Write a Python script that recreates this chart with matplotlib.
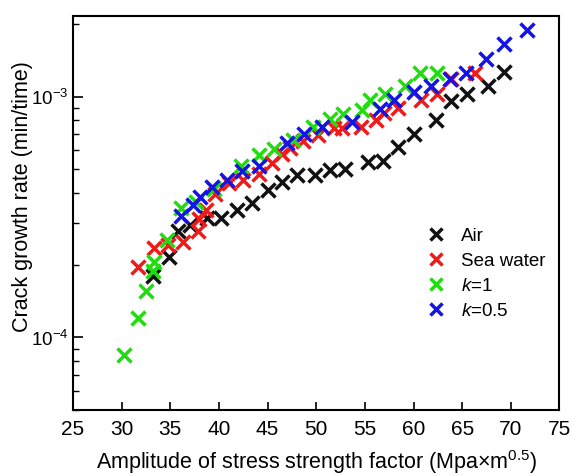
import matplotlib
matplotlib.use("Agg")
import matplotlib.pyplot as plt
from matplotlib.ticker import LogLocator, FixedLocator, FixedFormatter, NullFormatter

plt.rcParams['font.family'] = ['Liberation Sans', 'DejaVu Sans']
plt.rcParams['mathtext.fontset'] = 'custom'
plt.rcParams['mathtext.rm'] = 'Liberation Sans'
plt.rcParams['mathtext.it'] = 'Liberation Sans:italic'
plt.rcParams['mathtext.bf'] = 'Liberation Sans:bold'

# Crack growth data: stress intensity amplitude vs growth rate
air_dk = [33.2, 34.9, 35.8, 37.0, 38.8, 40.2, 41.9, 43.4, 45.0, 46.5, 48.0, 49.9,
          51.4, 52.95, 55.3, 56.9, 58.4, 60.0, 62.3, 63.9, 65.45, 67.7, 69.3]
air_rate = [1.80e-4, 2.16e-4, 2.78e-4, 2.93e-4, 3.14e-4, 3.14e-4, 3.37e-4, 3.62e-4,
            4.11e-4, 4.43e-4, 4.71e-4, 4.71e-4, 4.98e-4, 5.02e-4, 5.36e-4, 5.41e-4,
            6.18e-4, 7.02e-4, 7.98e-4, 9.6e-4, 1.03e-3, 1.105e-3, 1.27e-3]

sea_dk = [31.7, 33.3, 34.8, 36.3, 37.9, 38.0, 38.7, 39.6, 41.0, 42.5, 44.1, 45.5,
          46.5, 47.3, 48.6, 50.2, 51.8, 52.6, 54.65, 56.1, 57.0, 58.4, 60.8, 62.4,
          63.9, 66.3]
sea_rate = [1.97e-4, 2.36e-4, 2.42e-4, 2.50e-4, 2.78e-4, 3.12e-4, 3.38e-4, 3.93e-4,
            4.39e-4, 4.49e-4, 4.78e-4, 5.31e-4, 5.80e-4, 6.14e-4, 6.55e-4, 6.95e-4,
            7.38e-4, 7.45e-4, 7.5e-4, 8.0e-4, 8.52e-4, 8.95e-4, 9.66e-4, 1.03e-3,
            1.18e-3, 1.25e-3]

k1_dk = [30.2, 31.7, 32.5, 33.2, 33.35, 34.7, 36.15, 37.6, 39.5, 42.3, 44.1, 45.65,
         47.6, 49.7, 51.4, 52.8, 54.7, 55.5, 57.1, 59.1, 60.7, 62.4]
k1_rate = [8.45e-5, 1.20e-4, 1.56e-4, 1.88e-4, 2.06e-4, 2.54e-4, 3.46e-4, 3.66e-4,
           4.15e-4, 5.17e-4, 5.74e-4, 6.08e-4, 6.6e-4, 7.48e-4, 8.1e-4, 8.49e-4,
           8.77e-4, 9.66e-4, 1.03e-3, 1.11e-3, 1.25e-3, 1.26e-3]

k05_dk = [36.1, 37.3, 38.1, 39.3, 40.8, 42.35, 44.1, 47.0, 48.7, 50.6, 53.7, 56.6,
          57.95, 60.0, 61.75, 63.8, 65.35, 67.5, 69.25, 71.65]
k05_rate = [3.19e-4, 3.56e-4, 3.85e-4, 4.2e-4, 4.5e-4, 4.93e-4, 5.16e-4, 6.43e-4,
            7.03e-4, 7.46e-4, 7.84e-4, 8.9e-4, 9.73e-4, 1.045e-3, 1.105e-3, 1.19e-3,
            1.255e-3, 1.44e-3, 1.65e-3, 1.9e-3]

series = [
    (air_dk, air_rate, '#111111', 'Air'),
    (sea_dk, sea_rate, '#f01a1a', 'Sea water'),
    (k1_dk, k1_rate, '#1fdd0f', r'$\mathit{k}$=1'),
    (k05_dk, k05_rate, '#1414e6', r'$\mathit{k}$=0.5'),
]

x_ticks = [25, 30, 35, 40, 45, 50, 55, 60, 65, 70, 75]
y_ticks = [1e-4, 1e-3]
y_tick_labels = [r'$\mathregular{10^{-4}}$', r'$\mathregular{10^{-3}}$']

fig = plt.figure(figsize=(5.76, 4.76), dpi=100)
ax = fig.add_axes([0.1267, 0.1387, 0.8446, 0.8283])

for xs, ys, color, label in series:
    ax.plot(xs, ys, linestyle='none', marker='x', markersize=9.5,
            markeredgewidth=2.5, color=color, label=label)

ax.set_yscale('log')
ax.set_xlim(25, 75)
ax.set_ylim(5e-5, 2.17e-3)

ax.xaxis.set_major_locator(FixedLocator(x_ticks))
ax.yaxis.set_major_locator(FixedLocator(y_ticks))
ax.yaxis.set_major_formatter(FixedFormatter(y_tick_labels))
ax.yaxis.set_minor_locator(LogLocator(base=10, subs=range(2, 10), numticks=20))
ax.yaxis.set_minor_formatter(NullFormatter())

ax.tick_params(axis='x', which='major', direction='in', length=6, width=1.2,
               labelsize=15, pad=7, top=False)
ax.tick_params(axis='y', which='major', direction='in', length=7, width=1.2,
               labelsize=13.5, pad=3, right=False)
ax.tick_params(axis='y', which='minor', direction='in', length=4, width=1.0,
               right=False)

for sp in ax.spines.values():
    sp.set_linewidth(1.5)

ax.set_xlabel(r'Amplitude of stress strength factor (Mpa×m$^{0.5}$)', fontsize=15.5,
              labelpad=7)
ax.set_ylabel('Crack growth rate (min/time)', fontsize=15.5)
ax.yaxis.set_label_coords(-0.083, 0.541)

ax.legend(loc='center left', bbox_to_anchor=(0.7275, 0.345), frameon=False,
          fontsize=13.5, handlelength=1.0, handletextpad=0.8, labelspacing=0.42,
          borderpad=0, borderaxespad=0, markerscale=0.85)

fig.savefig('out.png', dpi=100)
